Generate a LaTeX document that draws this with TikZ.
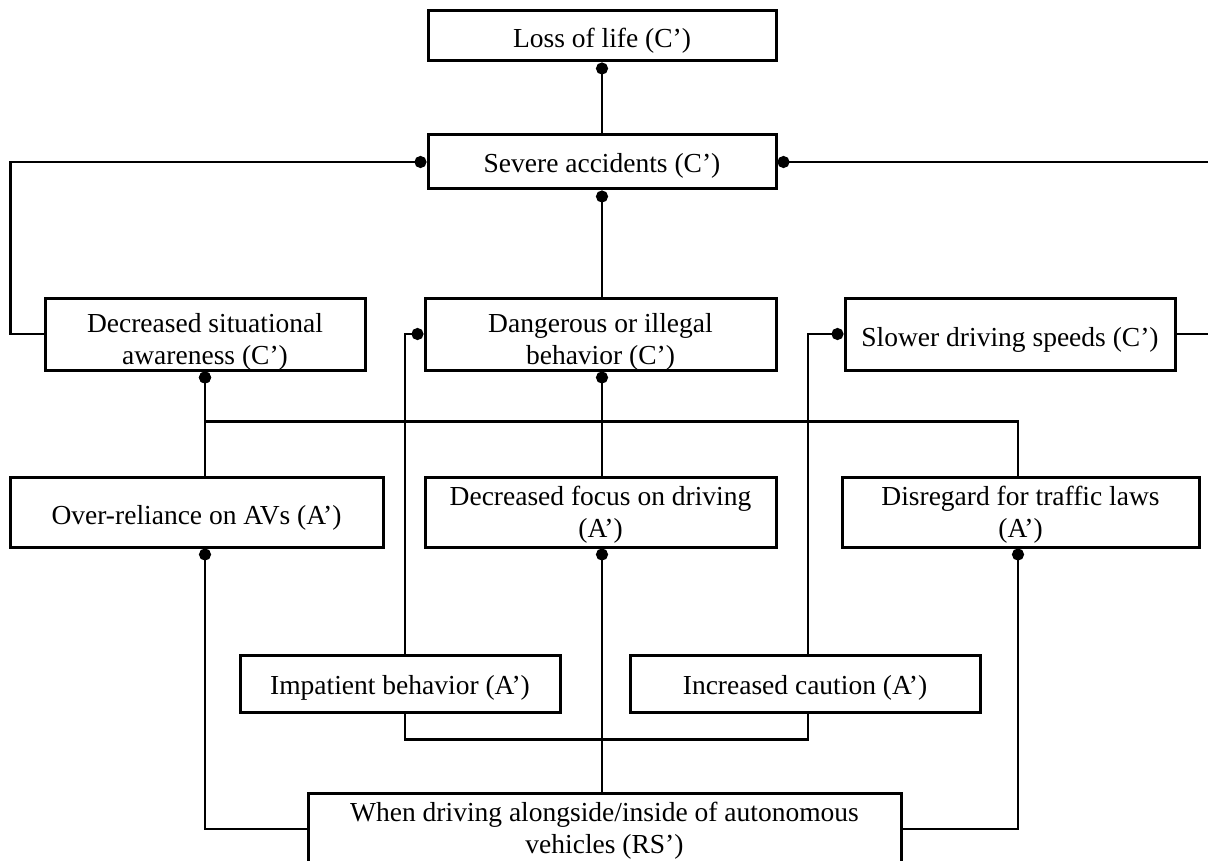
\documentclass[tikz,border=0pt]{standalone}
\usepackage{fontspec}
\setmainfont{Liberation Serif}
\usetikzlibrary{arrows.meta}
\begin{document}
\begin{tikzpicture}[x=1pt,y=-1pt,
  box/.style={draw,line width=3pt,inner sep=0pt,fill=white},
  txt/.style={inner sep=0pt,align=center,font=\fontsize{27.5}{32}\selectfont},
  link/.style={line width=2.8pt},
  dotend/.style={line width=2.8pt,-{Circle[length=12pt,width=12pt]}}]
\useasboundingbox (0,0) rectangle (1208,861);
\node[box,minimum width=348,minimum height=50] (loss) at (602,36) {};
\node[txt] (losst) at ([yshift=-5]loss.center) {Loss of life (C’)};
\node[box,minimum width=348,minimum height=54] (sev) at (602,162) {};
\node[txt] (sevt) at ([yshift=-4]sev.center) {Severe accidents (C’)};
\node[box,minimum width=320,minimum height=72] (dsa) at (205,334) {};
\node[txt] (dsat) at ([yshift=-8]dsa.center) {Decreased situational\\awareness (C’)};
\node[box,minimum width=351,minimum height=72] (dang) at (600.5,334) {};
\node[txt] (dangt) at ([yshift=-8]dang.center) {Dangerous or illegal\\behavior (C’)};
\node[box,minimum width=330,minimum height=72] (slow) at (1010,334) {};
\node[txt] (slowt) at ([yshift=-6]slow.center) {Slower driving speeds (C’)};
\node[box,minimum width=373,minimum height=70] (over) at (196.5,512) {};
\node[txt] (overt) at ([yshift=-6]over.center) {Over-reliance on AVs (A’)};
\node[box,minimum width=351,minimum height=70] (focus) at (600.5,512) {};
\node[txt] (focust) at ([yshift=-3]focus.center) {Decreased focus on driving\\(A’)};
\node[box,minimum width=357,minimum height=70] (disr) at (1020.5,512) {};
\node[txt] (disrt) at ([yshift=-3]disr.center) {Disregard for traffic laws\\(A’)};
\node[box,minimum width=320,minimum height=57] (imp) at (400,683.5) {};
\node[txt] (impt) at ([yshift=-4]imp.center) {Impatient behavior (A’)};
\node[box,minimum width=350,minimum height=57] (caut) at (805,683.5) {};
\node[txt] (cautt) at ([yshift=-4]caut.center) {Increased caution (A’)};
\node[box,minimum width=593,minimum height=72] (bot) at (604.5,829) {};
\node[txt] (bott) at ([yshift=-2]bot.center) {When driving alongside/inside of autonomous\\vehicles (RS’)};

\draw[dotend] (sev.north) -- (loss.south);
\draw[dotend] (sev.south |- dang.north) -- (sev.south);
\draw[dotend] (dsa.west) -- ++(-33,0) |- (sev.west);
\draw[dotend] (slow.east) -- ++(45,0) |- (sev.east);
\draw[dotend] (dsa.south |- over.north) -- (dsa.south);
\draw[dotend] ([xshift=-2.5pt]disr.north) -- ++(0,-54) -| (dsa.south);
\draw[dotend] (sev.south |- focus.north) -- (sev.south |- dang.south);
\draw[dotend] ([xshift=5pt]imp.north) |- (dang.west);
\draw[dotend] ([xshift=3pt]caut.north) |- (slow.west);
\draw[dotend] (sev.south |- bot.north) -- (sev.south |- focus.south);
\draw[link] ([xshift=5pt]imp.south) -- ++(0,26) -| ([xshift=3pt]caut.south);
\draw[dotend] (bot.west) -| (dsa.south |- over.south);
\draw[dotend] (bot.east) -| ([xshift=-2.5pt]disr.south);
\end{tikzpicture}
\end{document}
